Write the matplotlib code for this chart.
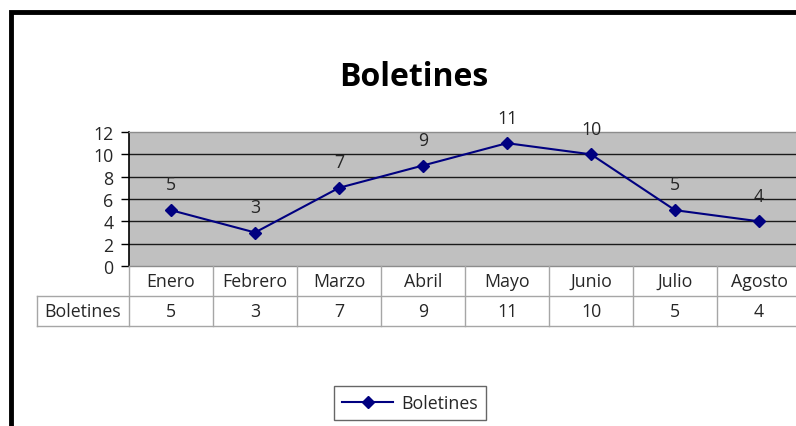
import matplotlib
matplotlib.use("Agg")
import matplotlib.pyplot as plt
from matplotlib.transforms import blended_transform_factory
from matplotlib.lines import Line2D
from matplotlib.patches import Rectangle

categories = ["Enero", "Febrero", "Marzo", "Abril", "Mayo", "Junio", "Julio", "Agosto"]
values = [5, 3, 7, 9, 11, 10, 5, 4]
series_name = "Boletines"
title = "Boletines"
yticks = [0, 2, 4, 6, 8, 10, 12]

W, H = 796, 427
plt.rcParams['font.family'] = ['Open Sans', 'DejaVu Sans']
FS = 12.8
TXT = "#262626"
fig = plt.figure(figsize=(W / 100, H / 100), dpi=100)

def fx(px):
    return px / W

def fy(py):
    return 1 - py / H

# plot area in pixels
L, R, T, B = 129, 801, 133, 267
ax = fig.add_axes([fx(L), fy(B), fx(R) - fx(L), fy(T) - fy(B)])
ax.set_facecolor("#c0c0c0")
ax.set_xlim(-0.5, len(categories) - 0.5)
ax.set_ylim(0, 12)
ax.set_yticks(yticks)
ax.set_yticklabels([str(v) for v in yticks], fontsize=FS, color=TXT)
ax.set_xticks([])
ax.tick_params(axis="y", direction="out", length=6, width=1, color="black", pad=5)
for y in yticks[1:-1]:
    ax.axhline(y, color="#1a1a1a", lw=1, zorder=1)
for s in ["top", "right", "bottom"]:
    ax.spines[s].set_color("#8c8c8c")
    ax.spines[s].set_linewidth(1)
ax.spines["left"].set_color("black")
ax.spines["left"].set_linewidth(1.2)

x = list(range(len(categories)))
line, = ax.plot(x, values, color="#000080", lw=1.5, marker="D", markersize=6.5,
                markerfacecolor="#000080", markeredgecolor="#000080", zorder=3,
                label=series_name, clip_on=False)
for xi, v in zip(x, values):
    ax.annotate(str(v), (xi, v), xytext=(0, 12), textcoords="offset points",
                ha="center", va="bottom", fontsize=FS, color=TXT)

# title
fig.text(fx(414), fy(78), title, ha="center", va="center", fontsize=23,
         fontweight="bold", color="black")

# data table
tr = blended_transform_factory(ax.transData, fig.transFigure)
gray = "#a6a6a6"
row1_top, row1_bot, row2_bot = 267, 297, 327
for i in range(len(categories) + 1):
    xb = i - 0.5
    fig.add_artist(Line2D([xb, xb], [fy(row1_top), fy(row2_bot)], transform=tr,
                          color=gray, lw=1))
for yy in (row1_bot, row2_bot):
    fig.add_artist(Line2D([fx(37), fx(R)], [fy(yy), fy(yy)], color=gray, lw=1))
fig.add_artist(Line2D([fx(37), fx(37)], [fy(row1_bot), fy(row2_bot)], color=gray, lw=1))
for xi, c, v in zip(x, categories, values):
    fig.text(xi, fy(282), c, transform=tr, ha="center", va="center", fontsize=FS,
             color=TXT)
    fig.text(xi, fy(312), str(v), transform=tr, ha="center", va="center", fontsize=FS,
             color=TXT)
fig.text(fx(83), fy(312), series_name, ha="center", va="center", fontsize=FS,
         color=TXT)

# legend
leg = fig.legend(handles=[line], labels=[series_name], loc="center",
                 bbox_to_anchor=(fx(410), fy(404)), frameon=True, fancybox=False,
                 fontsize=FS, handlelength=2.9, borderpad=0.45, handletextpad=0.45)
leg.get_frame().set_edgecolor("#404040")
leg.get_frame().set_linewidth(1)
for t in leg.get_texts():
    t.set_color(TXT)

# outer chart border
fig.add_artist(Rectangle((fx(11), fy(440)), fx(820) - fx(11), fy(13) - fy(440),
                         transform=fig.transFigure, fill=False, edgecolor="black",
                         lw=3.5, clip_on=False))

fig.savefig("out.png", dpi=100)
